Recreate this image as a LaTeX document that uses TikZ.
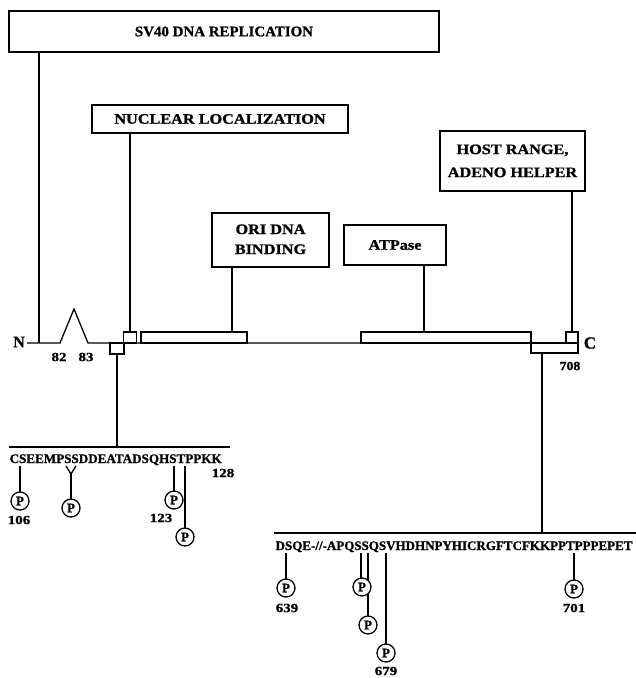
\documentclass[tikz,border=0pt]{standalone}
\usepackage{fontspec}
\setmainfont{Liberation Serif}[BoldFeatures={FakeBold=1}]
\usepackage{graphicx}
\begin{document}
\begin{tikzpicture}[x=1pt,y=-1pt, line width=1.3pt,
  lbl/.style={draw, line width=1.3pt, inner sep=0pt, align=center, font=\fontsize{14.5}{20}\selectfont\bfseries},
  bar/.style={draw, line width=1.3pt, inner sep=0pt},
  phos/.style={circle, draw, line width=1.3pt, fill=white, inner sep=0pt, minimum size=18pt, font=\fontsize{13}{13}\selectfont\bfseries},
  num/.style={inner sep=0pt, font=\fontsize{12.5}{13}\selectfont\bfseries},
  pep/.style={inner sep=0pt, anchor=base west, font=\fontsize{13.1}{14}\selectfont\bfseries},
  endlbl/.style={inner sep=0pt, font=\fontsize{17}{17}\selectfont\bfseries}]
\useasboundingbox (0,0) rectangle (636,678);

% function boxes
\node[lbl, minimum width=430pt, minimum height=41pt] (sv40) at (224,31.5) {\scalebox{1.03}[1]{SV40 DNA REPLICATION}};
\node[lbl, minimum width=256pt, minimum height=28pt] (nuc) at (220,119) {\scalebox{1.12}[1]{NUCLEAR LOCALIZATION}};
\node[lbl, minimum width=145pt, minimum height=60pt] (host) at (512.5,161) {\fontsize{14.5}{23}\selectfont\scalebox{1.12}[1]{\begin{tabular}{@{}c@{}}HOST RANGE,\\ADENO HELPER\end{tabular}}};
\node[lbl, minimum width=117pt, minimum height=54pt] (ori) at (270.5,240) {\scalebox{1.12}[1]{\begin{tabular}{@{}c@{}}ORI DNA\\BINDING\end{tabular}}};
\node[lbl, minimum width=102pt, minimum height=40pt] (atp) at (395,245) {\scalebox{1.12}[1]{ATPase}};

% main protein line
\coordinate (n0) at (27,343);
\coordinate (t1) at (60,343);
\coordinate (tp) at (74,309);
\coordinate (t2) at (88,343);
\coordinate (c0) at (578,343);
\draw (n0) -- (t1) -- (tp) -- (t2) -- (c0);
\node[endlbl, font=\fontsize{16}{16}\selectfont\bfseries] (N) at (19,342) {N};
\node[endlbl] (C) at (590,343) {C};
\node[num] (l82) at (59,357) {\scalebox{1.2}[1]{82}};
\node[num] (l83) at (86,357) {\scalebox{1.2}[1]{83}};
\node[num] (l708) at (570,366) {\scalebox{1.1}[1]{708}};

% bars on the line
\node[bar, minimum width=13pt, minimum height=11pt] (nup) at (130,337.5) {};
\node[bar, minimum width=14pt, minimum height=11pt] (nlow) at (117,348.5) {};
\node[bar, minimum width=106pt, minimum height=11pt] (oribar) at (194,337.5) {};
\node[bar, minimum width=170pt, minimum height=11pt] (atpbar) at (446,337.5) {};
\node[bar, minimum width=12pt, minimum height=11pt] (cup) at (572,337.5) {};
\node[bar, minimum width=47pt, minimum height=10pt] (clow) at (554.5,348) {};

% connectors from function boxes
\coordinate (svj) at (39,343);
\draw (sv40.south -| svj) -- (svj);
\draw (nuc.south -| nup.north) -- (nup.north);
\coordinate (orij) at (232,332);
\draw (ori.south -| orij) -- (orij);
\coordinate (atpj) at (424,332);
\draw (atp.south -| atpj) -- (atpj);
\draw (host.south -| cup.north) -- (cup.north);

% left peptide
\coordinate (lA) at (9,447);
\coordinate (lB) at (230,447);
\draw (lA) -- (lB);
\draw (nlow.south) -- (nlow.south |- lA);
\node[pep] (lpep) at (9,463) {CSEEMPSSDDEATADSQHSTPPKK};
\node[num] (l128) at (223,473) {\scalebox{1.2}[1]{128}};

% right peptide
\coordinate (rA) at (274,533);
\coordinate (rB) at (640,533);
\coordinate (rj) at (542,533);
\draw (rA) -- (rB);
\draw (clow.south -| rj) -- (rj);
\node[pep, font=\fontsize{13}{14}\selectfont\bfseries] (rpep) at (275,550) {DSQE-//-APQSSQSVHDHNPYHICRGFTCFKKPPTPPPEPET};

% phosphorylation sites, left
\coordinate (s106) at (20,466);
\coordinate (s111) at (66,466);
\coordinate (s112) at (76,466);
\coordinate (yj) at (71,474);
\coordinate (s123) at (174,466);
\coordinate (t124) at (185,466);
\draw (s106) -- (20,501);
\draw (s111) -- (yj) -- (s112);
\draw (yj) -- (71,508);
\draw (s123) -- (174,500);
\draw (t124) -- (185,537);
\node[phos] (p106) at (20,501) {P};
\node[phos] (p111) at (71,508) {P};
\node[phos] (p123) at (174,500) {P};
\node[phos] (p124) at (185,537) {P};
\node[num] (l106) at (19,520) {\scalebox{1.2}[1]{106}};
\node[num] (l123) at (161,518) {\scalebox{1.2}[1]{123}};

% phosphorylation sites, right
\coordinate (s639) at (286,553);
\coordinate (s676) at (361,553);
\coordinate (s677) at (368,553);
\coordinate (s679) at (386,553);
\coordinate (t701) at (574,553);
\draw (s677) -- (368,625);
\draw (s639) -- (286,588);
\draw (s676) -- (361,587);
\draw (s679) -- (386,653);
\draw (t701) -- (574,589);
\node[phos] (p639) at (286,588) {P};
\node[phos] (p676) at (362,587) {P};
\node[phos] (p677) at (368,625) {P};
\node[phos] (p679) at (386,653) {P};
\node[phos] (p701) at (574,589) {P};
\node[num] (l639) at (287,608) {\scalebox{1.2}[1]{639}};
\node[num] (l679) at (386,671) {\scalebox{1.2}[1]{679}};
\node[num] (l701) at (574,608) {\scalebox{1.2}[1]{701}};
\end{tikzpicture}
\end{document}
